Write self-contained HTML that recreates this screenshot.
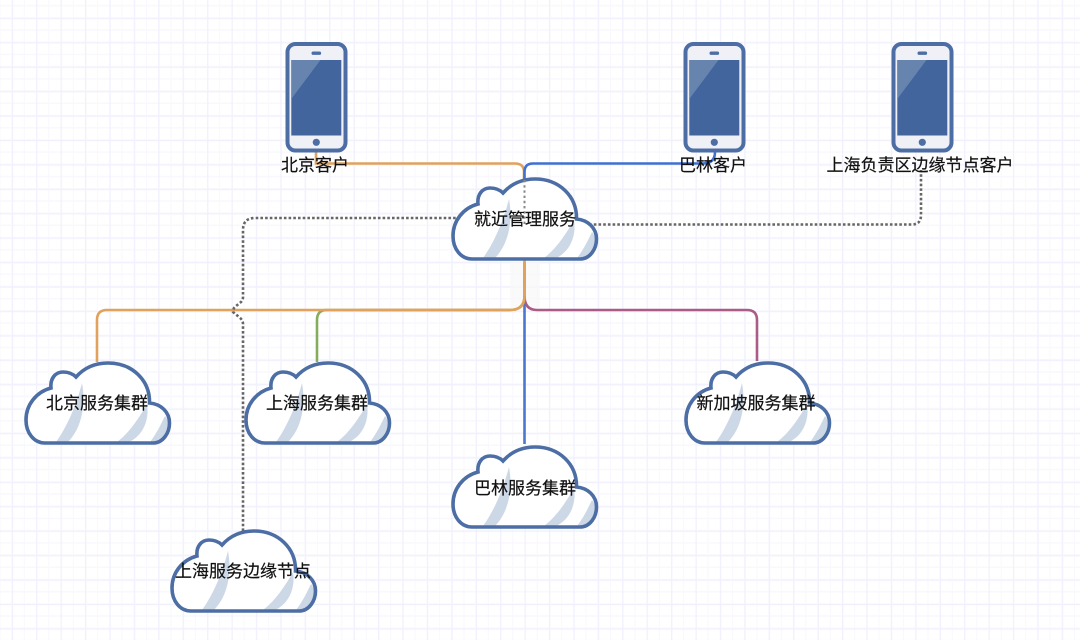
<!DOCTYPE html>
<html>
<head>
<meta charset="utf-8">
<style>
html,body{margin:0;padding:0;background:#fff;}
svg{display:block;filter:blur(0.35px);}
text{font-family:"Liberation Sans","Noto Sans CJK SC",sans-serif;font-size:17px;fill:#111;stroke:#111;stroke-width:0.2px;}
</style>
</head>
<body>
<svg width="1080" height="640" viewBox="0 0 1080 640" xmlns="http://www.w3.org/2000/svg">
<defs>
<pattern id="minor" x="-0.5" y="-0.5" width="12.21" height="12.21" patternUnits="userSpaceOnUse">
<path d="M0 6.1H12.21" stroke="#f8f8fe" stroke-width="1.4" fill="none"/>
<path d="M0.2 0V12.21" stroke="#f8f8fe" stroke-width="1.4" fill="none"/>
</pattern>
<pattern id="major" x="11.7" y="17.9" width="24.42" height="24.42" patternUnits="userSpaceOnUse">
<path d="M0 0V24.42M0 0H24.42" stroke="#f1f1fe" stroke-width="2.6" fill="none"/>
</pattern>
<symbol id="cloud" overflow="visible" width="145" height="82" viewBox="0 0 145 82">
<path d="M20,81H128C138,81 144.5,71 144.5,61C144.5,50 136,42 124.5,41C125,18 107,1 83,1C70,1 59,6 51,15C47,11 43,10 38,10C30,10 25,17 26,26C11,30 1,43 1,58C1,71 9,81 20,81Z" fill="#fff"/>
<path d="M31,80C44,62 52,40 57,21C61,42 57,66 43,80Z" fill="#cdd8e7"/>
<path d="M92,80C105,70 114,56 122,42C125,60 116,75 104,80Z" fill="#cdd8e7"/>
<path d="M125,80C132,71 136,62 140,54C147,62 144,73 136,80Z" fill="#cdd8e7"/>
<path d="M20,81H128C138,81 144.5,71 144.5,61C144.5,50 136,42 124.5,41C125,18 107,1 83,1C70,1 59,6 51,15C47,11 43,10 38,10C30,10 25,17 26,26C11,30 1,43 1,58C1,71 9,81 20,81Z" fill="none" stroke="#4c6ea5" stroke-width="3.6"/>
</symbol>
<symbol id="phone" overflow="visible" width="62" height="110" viewBox="0 0 62 110">
<rect x="2" y="2" width="58" height="106.5" rx="8" fill="#eff1f6" stroke="#4c6ea5" stroke-width="4"/>
<rect x="5.8" y="18" width="50" height="75.5" fill="#41659c"/>
<path d="M5.8,18H35L5.8,57Z" fill="#6784ae"/>
<rect x="26" y="9.5" width="9.6" height="3.4" rx="1.7" fill="#4c6ea5"/>
<circle cx="30.8" cy="100.3" r="3.6" fill="#4c6ea5"/>
</symbol>
</defs>

<rect width="1080" height="640" fill="#fff"/>
<rect width="1080" height="640" fill="url(#minor)"/>
<rect width="1080" height="640" fill="url(#major)"/>
<rect x="510" y="262" width="30" height="46" fill="#f8f8f8" opacity="0.7"/>

<g fill="none" stroke-width="2.6">
<path d="M316,152V163.5H515Q524,163.5 524,172V180" stroke="#e0a25c"/>
<path d="M715,152Q715,163.5 703,163.5H533Q524.5,163.5 524.5,172V180" stroke="#3f70d2"/>
<path d="M524.5,262V444" stroke="#4a78d0"/>
<path d="M524.5,296Q524.5,310 537,310H747Q757,310 757,320V361" stroke="#a95c86"/>
<path d="M524.5,296Q524.5,310 510,310H327Q317,310 317,320V362" stroke="#86ac5c"/>
<path d="M524.5,260V296Q524.5,310 510,310H107Q97,310 97,320V362" stroke="#e0a25c"/>
<path d="M360,310H510" stroke="#e0a25c"/>
</g>
<g fill="none" stroke="#666" stroke-width="2.6" stroke-dasharray="2.6 2.1">
<path d="M243,531V324Q243,320 239,317L233,312Q233,308 236,306L241,302Q243,300 243,297V230Q243,218 255,218H460"/>
<path d="M575,224.5H912Q921,224.5 921,215V170"/>
</g>

<use href="#phone" x="285.5" y="42"/>
<use href="#phone" x="683.5" y="42"/>
<use href="#phone" x="891.5" y="42"/>

<use href="#cloud" x="452" y="178"/>
<path d="M524.5,180V224" fill="none" stroke="#888" stroke-width="2" stroke-dasharray="2.4 2.8"/>
<use href="#cloud" x="25" y="362"/>
<use href="#cloud" x="245" y="362"/>
<use href="#cloud" x="685" y="362"/>
<use href="#cloud" x="452" y="446"/>
<use href="#cloud" x="171" y="530"/>

<text x="315" y="171" text-anchor="middle">北京客户</text>
<text x="713" y="171" text-anchor="middle">巴林客户</text>
<text x="920" y="171" text-anchor="middle">上海负责区边缘节点客户</text>
<text x="525" y="225" text-anchor="middle">就近管理服务</text>
<text x="97" y="409" text-anchor="middle">北京服务集群</text>
<text x="317" y="409" text-anchor="middle">上海服务集群</text>
<text x="756" y="409" text-anchor="middle">新加坡服务集群</text>
<text x="525" y="494" text-anchor="middle">巴林服务集群</text>
<text x="243" y="577" text-anchor="middle">上海服务边缘节点</text>
</svg>
</body>
</html>
